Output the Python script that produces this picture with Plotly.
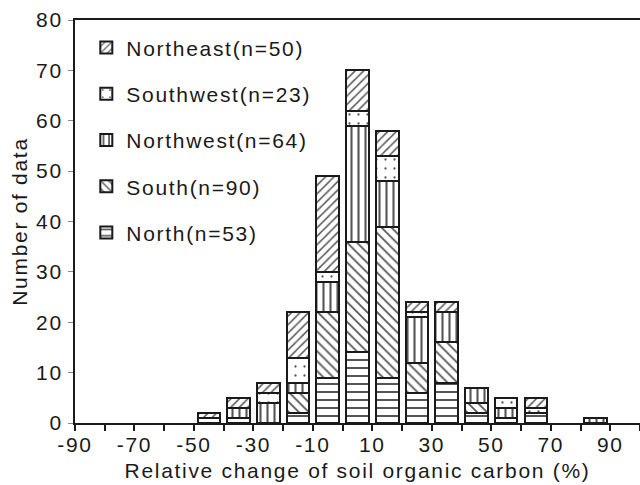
import plotly.graph_objects as go

# bin centres (%) of the relative change of soil organic carbon
bins = [-45, -35, -25, -15, -5, 5, 15, 25, 35, 45, 55, 65, 85]

# counts per region, stacked bottom -> top
north     = [1, 1, 0, 2, 9, 14, 9, 6, 8, 2, 1, 2, 0]
south     = [0, 0, 0, 4, 13, 22, 30, 6, 8, 2, 0, 0, 0]
northwest = [0, 2, 4, 2, 6, 23, 9, 9, 6, 3, 2, 0, 1]
southwest = [0, 0, 2, 5, 2, 3, 5, 1, 0, 0, 2, 1, 0]
northeast = [1, 2, 2, 9, 19, 8, 5, 2, 2, 0, 0, 2, 0]

series_names = ["North(n=53)", "South(n=90)", "Northwest(n=64)",
                "Southwest(n=23)", "Northeast(n=50)"]
series_values = [north, south, northwest, southwest, northeast]
series_patterns = ["-", "\\", "|", ".", "/"]
series_pattern_sizes = [8, 7, 7, 9, 6]
series_solidity = [0.25, 0.25, 0.3, 0.05, 0.25]

xtick_vals = list(range(-90, 101, 10))
xtick_text = ["-90", "", "-70", "", "-50", "", "-30", "", "-10", "",
              "10", "", "30", "", "50", "", "70", "", "90", ""]
ytick_vals = [0, 10, 20, 30, 40, 50, 60, 70, 80]

FONT = "Liberation Sans, Arial, sans-serif"

fig = go.Figure()
n = len(series_names)
for i, (name, vals, pat, psz, sol) in enumerate(zip(series_names, series_values,
                                                    series_patterns, series_pattern_sizes,
                                                    series_solidity)):
    fig.add_trace(go.Bar(
        x=bins,
        y=[v if v else None for v in vals],
        name=name,
        legendgroup=f"g{i}",
        legendrank=n - i,
        width=7.6,
        marker=dict(
            color="white",
            line=dict(color="#1a1a1a", width=2),
            pattern=dict(shape=pat, fgcolor="#555555", bgcolor="white",
                         size=psz, solidity=sol, fillmode="replace"),
        ),
    ))

fig.update_layout(
    width=640, height=485,
    margin=dict(l=75, r=0, t=20, b=62),
    barmode="stack",
    plot_bgcolor="white", paper_bgcolor="white",
    font=dict(family=FONT, size=21, color="#1a1a1a"),
    showlegend=True,
    legend=dict(
        x=0.02, y=0.982, xanchor="left", yanchor="top",
        traceorder="grouped", tracegroupgap=16,
        bgcolor="rgba(0,0,0,0)", font=dict(size=21, family=FONT),
        itemwidth=30,
    ),
    xaxis=dict(
        range=[-90, 100], automargin=False,
        tickmode="array", tickvals=xtick_vals, ticktext=xtick_text,
        ticks="outside", ticklen=6, tickwidth=2, tickcolor="#1a1a1a",
        showline=True, linecolor="#1a1a1a", linewidth=2, mirror=True,
        showgrid=False, zeroline=False, ticklabelstandoff=-4,
        title=dict(text="Relative change of soil organic carbon (%)", standoff=8,
                   font=dict(size=21)),
        tickfont=dict(size=21),
    ),
    yaxis=dict(
        range=[0, 80], automargin=False,
        tickmode="array", tickvals=ytick_vals,
        ticks="outside", ticklen=5, tickwidth=1, tickcolor="#888888",
        showline=True, linecolor="#1a1a1a", linewidth=2,
        showgrid=False, zeroline=False, ticklabelstandoff=1,
        title=dict(text="Number of data", standoff=6, font=dict(size=21)),
        tickfont=dict(size=21),
    ),
)

post = ("document.body.style.margin='0';"
        "document.body.style.overflow='hidden';"
        "document.documentElement.style.overflow='hidden';"
        "document.querySelectorAll('.main-svg text').forEach(function(t){"
        "t.style.letterSpacing='1.7px';});"
        "document.querySelectorAll('.legend [clip-path]').forEach(function(e){"
        "e.removeAttribute('clip-path');});")
fig.write_html("out.html", post_script=post, config={"displayModeBar": False})
